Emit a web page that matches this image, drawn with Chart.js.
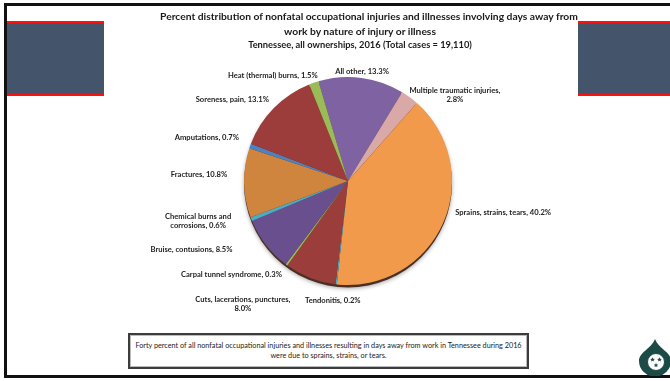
<!DOCTYPE html>
<html>
<head>
<meta charset="utf-8">
<script src="https://cdn.jsdelivr.net/npm/chart.js@4.4.1/dist/chart.umd.min.js"></script>
<style>
  html, body { margin: 0; padding: 0; }
  body {
    width: 670px; height: 381px; position: relative; overflow: hidden;
    background: #fff; font-family: Lato, "Open Sans", sans-serif; color: #1a1a1a;
  }
  .frame {
    position: absolute; left: 4px; top: 3px; width: 700px; height: 369px;
    border: 3px solid #111;
  }
  .band {
    position: absolute; top: 21px; height: 71px; background: #44546a;
    border-top: 2px solid #ff1010; border-bottom: 2px solid #ff1010;
  }
  .panel {
    position: absolute; left: 104px; top: 6px; width: 474px; height: 325px;
    background: #fff;
  }
  .panel canvas { position: absolute; left: 0; top: 0; }
  .title {
    position: absolute; left: 160px; width: 400px; text-align: center;
    white-space: nowrap; font-weight: bold;
  }
  .t1 { top: 9px; font-size: 10.3px; line-height: 14px; }
  .t2 { top: 24px; font-size: 10.3px; line-height: 14px; }
  .t3 { top: 39px; font-size: 9.3px; line-height: 12px; }
  .note {
    position: absolute; left: 128px; top: 333px; width: 397px; height: 32px;
    border: 2px solid #3c3c3c; box-shadow: inset 0 0 0 1px #bbb;
    display: flex; align-items: center; justify-content: center;
    text-align: center; font-size: 7.25px; line-height: 10px; white-space: nowrap;
    color: #222;
  }
  .logo { position: absolute; left: 636px; top: 336px; }
</style>
</head>
<body>
<div class="frame"></div>
<div class="band" style="left:7px; width:97px;"></div>
<div class="band" style="left:578px; width:100px;"></div>

<div class="panel">
  <canvas id="pie" width="474" height="325"></canvas>
</div>

<div class="title t1">Percent distribution of nonfatal occupational injuries and illnesses involving days away from</div>
<div class="title t2">work by nature of injury or illness</div>
<div class="title t3">Tennessee, all ownerships, 2016 (Total cases = 19,110)</div>

<div class="note">Forty percent of all nonfatal occupational injuries and illnesses resulting in days away from work in Tennessee during 2016<br>were due to sprains, strains, or tears.</div>

<svg class="logo" width="36" height="40" viewBox="0 0 36 40">
  <path d="M19 3 C15 13 3 16 3 25 A16 15.5 0 0 0 35 25 C35 16 23 13 19 3 Z" fill="#1c4b47"/>
  <circle cx="20" cy="26" r="8.5" fill="#fff"/>
  <circle cx="20" cy="26" r="8.5" fill="none" stroke="#1c4b47" stroke-width="1"/>
  <g fill="#1c4b47">
    <polygon points="16.5,21.2 17.2,22.8 18.9,22.9 17.6,24 18,25.6 16.5,24.7 15,25.6 15.4,24 14.1,22.9 15.8,22.8"/>
    <polygon points="23.5,21.2 24.2,22.8 25.9,22.9 24.6,24 25,25.6 23.5,24.7 22,25.6 22.4,24 21.1,22.9 22.8,22.8"/>
    <polygon points="20,26.8 20.7,28.4 22.4,28.5 21.1,29.6 21.5,31.2 20,30.3 18.5,31.2 18.9,29.6 17.6,28.5 19.3,28.4"/>
  </g>
</svg>

<script>
// Nature of injury or illness, clockwise from the top
const categories = [
  'All other',
  'Multiple traumatic injuries',
  'Sprains, strains, tears',
  'Tendonitis',
  'Cuts, lacerations, punctures',
  'Carpal tunnel syndrome',
  'Bruise, contusions',
  'Chemical burns and corrosions',
  'Fractures',
  'Amputations',
  'Soreness, pain',
  'Heat (thermal) burns'
];
const percents = [13.3, 2.8, 40.2, 0.2, 8.0, 0.3, 8.5, 0.6, 10.8, 0.7, 13.1, 1.5];

const sliceColors = [
  '#7e62a1', '#d8a9a7', '#f29a4c', '#4aacc6', '#9a3d3b', '#9bbb59',
  '#6a4f8e', '#4bacc6', '#d0853f', '#4f81bd', '#9c3c3b', '#9bbb59'
];

// label placement: words on the first line (0 = one line) and a nudge from the slice anchor
const breakAfterWords = [0, 3, 0, 0, 3, 0, 0, 3, 0, 0, 0, 0];
const labelNudge = [
  [-1, 6], [38, 7.5], [49, -15], [-2, 4], [-63, 15], [-48, 0],
  [-65, -3], [-42, -3], [-33, -9], [-32, -4], [-33, 0], [-37, 4]
];

function labelLines(i) {
  const words = (categories[i] + ', ' + percents[i].toFixed(1) + '%').split(' ');
  const n = breakAfterWords[i];
  if (!n) return [words.join(' ')];
  return [words.slice(0, n).join(' '), words.slice(n).join(' ')];
}

// dark rim under the pie, gives it the slight raised look
const rimShadow = {
  id: 'rimShadow',
  beforeDatasetsDraw(chart) {
    const arc = chart.getDatasetMeta(0).data[0];
    if (!arc) return;
    const { x, y, outerRadius } = arc.getProps(['x', 'y', 'outerRadius'], true);
    const ctx = chart.ctx;
    ctx.save();
    ctx.shadowColor = 'rgba(0,0,0,0.35)';
    ctx.shadowBlur = 4;
    ctx.shadowOffsetY = 1;
    ctx.fillStyle = '#4a3024';
    ctx.beginPath();
    ctx.arc(x, y + 2.5, outerRadius, 0, Math.PI * 2);
    ctx.fill();
    ctx.restore();
  }
};

// category labels outside the slices
const sliceLabels = {
  id: 'sliceLabels',
  afterDatasetsDraw(chart) {
    const ctx = chart.ctx;
    const meta = chart.getDatasetMeta(0);
    ctx.save();
    ctx.font = 'bold 7.6px Lato, sans-serif';
    ctx.fillStyle = '#1e1e1e';
    ctx.textAlign = 'center';
    ctx.textBaseline = 'middle';
    meta.data.forEach((arc, i) => {
      const p = arc.getProps(['x', 'y', 'startAngle', 'endAngle', 'outerRadius'], true);
      const mid = (p.startAngle + p.endAngle) / 2;
      const r = p.outerRadius + 12;
      const cx = p.x + Math.cos(mid) * r + labelNudge[i][0];
      const cy = p.y + Math.sin(mid) * r + labelNudge[i][1];
      const lines = labelLines(i);
      const lh = 9;
      lines.forEach((t, k) => {
        ctx.fillText(t, cx, cy + (k - (lines.length - 1) / 2) * lh);
      });
    });
    ctx.restore();
  }
};

new Chart(document.getElementById('pie').getContext('2d'), {
  type: 'pie',
  data: {
    labels: categories,
    datasets: [{
      data: percents,
      backgroundColor: sliceColors,
      borderWidth: 0
    }]
  },
  options: {
    responsive: false,
    animation: false,
    devicePixelRatio: 1,
    rotation: -16.5,
    layout: { padding: { top: 71, bottom: 46, left: 100, right: 86 } },
    plugins: {
      legend: { display: false },
      tooltip: { enabled: false },
      title: { display: false }
    }
  },
  plugins: [rimShadow, sliceLabels]
});
</script>
</body>
</html>
